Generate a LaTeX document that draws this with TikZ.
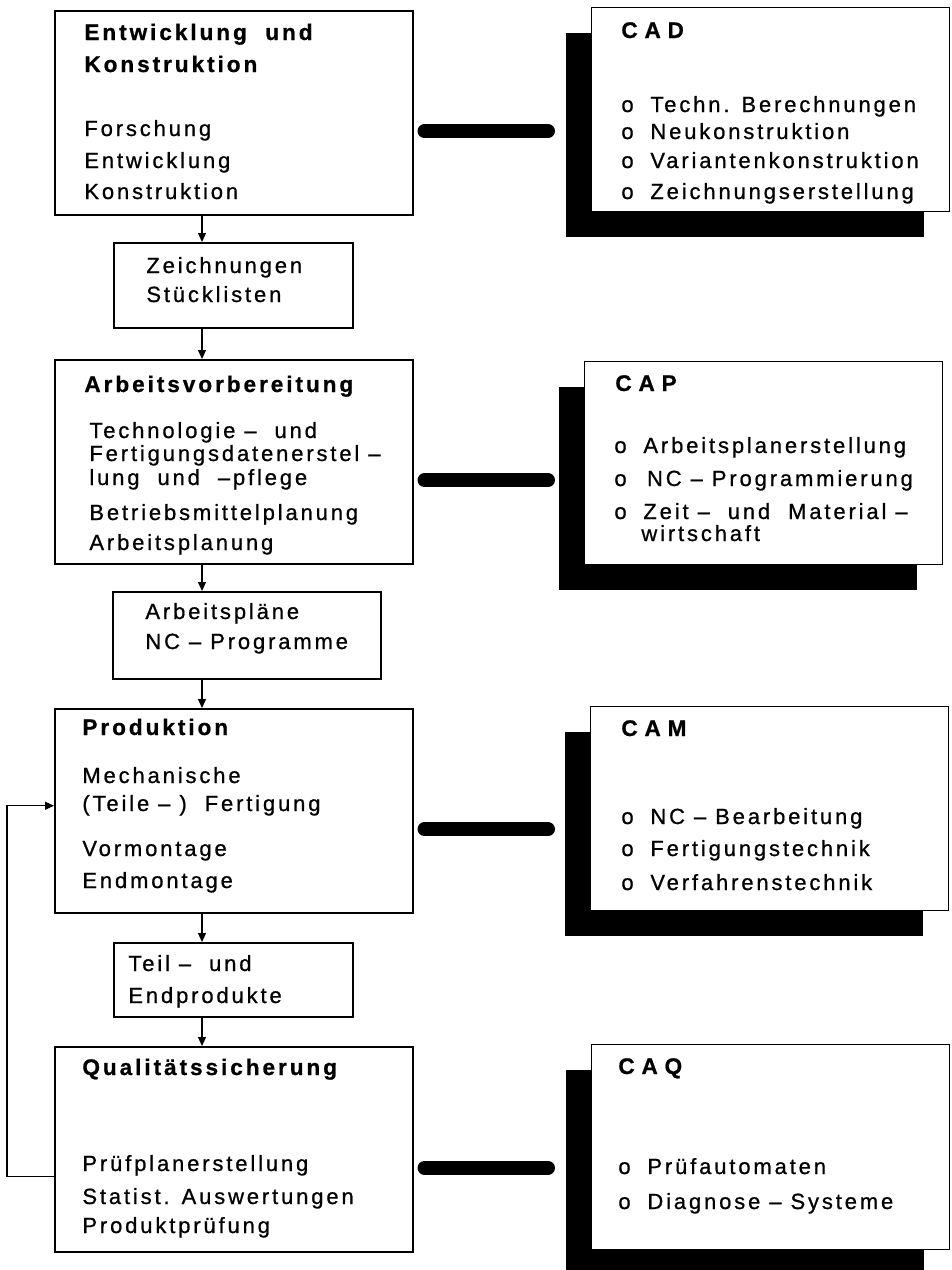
\documentclass[tikz,border=0pt]{standalone}
\usepackage{fontspec}
\setmainfont[LetterSpace=13,FakeBold=0.8]{Liberation Sans}
\usetikzlibrary{arrows.meta,calc,shadows}
\newcommand\bulitem[1]{\makebox[14.5pt][l]{o}#1}

\begin{document}
\begin{tikzpicture}[
  x=0.5pt,y=-0.5pt,
  font=\fontsize{11}{12}\selectfont,
  >={Triangle[length=4.5pt,width=4pt]},
  blk/.style={draw,line width=0.75pt,anchor=north west,inner sep=0pt,
              minimum width=179pt,minimum height=102pt},
  doc/.style={draw,line width=0.75pt,anchor=north west,inner sep=0pt},
  cax/.style={blk,fill=white,line width=0.6pt,
              drop shadow={shadow xshift=-13pt,shadow yshift=-12.5pt,
                           fill=black,opacity=1}},
  head/.style={anchor=base west,inner sep=0pt,font=\fontsize{11.3}{13}\selectfont\bfseries},
  cahead/.style={head,font=\fontsize{11.3}{13}\selectfont\bfseries\addfontfeature{LetterSpace=30}},
  txt/.style={anchor=base west,inner sep=0pt},
  fl/.style={->,line width=0.6pt},
  bar/.style={line width=7pt,line cap=round},
]
\useasboundingbox (0,0) rectangle (952,1270);

%------------------------------------------------ Entwicklung/Konstruktion ---
\node[blk] (ek) at (54,10) {};
\node[head] (ek-h1) at (84,40) {Entwicklung \ und};
\node[head] (ek-h2) at (84,72) {Konstruktion};
\foreach \y/\t [count=\i] in {136/Forschung,168/Entwicklung,199/Konstruktion}
  \node[txt] (ek-\i) at (84,\y) {\t};

\node[doc,minimum width=119.5pt,minimum height=42.5pt] (sb1) at (113,242) {};
\node[txt] (sb1-1) at (146,273) {Zeichnungen};
\node[txt] (sb1-2) at (146,302) {Stücklisten};

%------------------------------------------------- Arbeitsvorbereitung ---
\node[blk] (av) at (54,359) {};
\node[head] (av-h) at (84,392) {Arbeitsvorbereitung};
\foreach \y/\t [count=\i] in {438/Technologie – \ und,461/Fertigungsdatenerstel –,
    485/lung \ und \ –pflege,520/Betriebsmittelplanung,550/Arbeitsplanung}
  \node[txt] (av-\i) at (89,\y) {\t};

\node[doc,minimum width=134pt,minimum height=43.5pt] (sb2) at (112,591) {};
\node[txt] (sb2-1) at (145,619) {Arbeitspläne};
\node[txt] (sb2-2) at (145,649) {NC – Programme};

%----------------------------------------------------------- Produktion ---
\node[blk] (pr) at (54,708) {};
\node[head] (pr-h) at (82,735) {Produktion};
\foreach \y/\t [count=\i] in {783/Mechanische,811/(Teile – ) \ Fertigung,
    856/Vormontage,888/Endmontage}
  \node[txt] (pr-\i) at (82,\y) {\t};

\node[doc,minimum width=119.5pt,minimum height=37pt] (sb3) at (113,942) {};
\node[txt] (sb3-1) at (128,971) {Teil – \ und};
\node[txt] (sb3-2) at (128,1003) {Endprodukte};

%---------------------------------------------------- Qualitaetssicherung ---
\node[blk,minimum height=102.5pt] (qs) at (54,1046) {};
\node[head] (qs-h) at (82,1075) {Qualitätssicherung};
\foreach \y/\t [count=\i] in {1171/Prüfplanerstellung,1204/Statist. Auswertungen,
    1233/Produktprüfung}
  \node[txt] (qs-\i) at (82,\y) {\t};

%------------------------------------------------------------- arrows ---
\coordinate (ax) at (202,0);
\foreach \a/\b in {ek/sb1,sb1/av,av/sb2,sb2/pr,pr/sb3,sb3/qs}
  \draw[fl] (\a.south -| ax) -- (\b.north -| ax);
\draw[fl] ([yshift=-13.75pt]qs.west) -- ++(-47,0) |- ([yshift=2.5pt]pr.west);

%------------------------------------------------------- CA-components ---
\node[cax] (cad) at (591,7) {};
\node[cahead] (cad-h) at (621,38) {CAD};
\foreach \y/\t [count=\i] in {112/Techn. Berechnungen,139/Neukonstruktion,
    168/Variantenkonstruktion,199/Zeichnungserstellung}
  \node[txt] (cad-\i) at (621,\y) {\bulitem{\t}};

\node[cax,minimum height=101.5pt] (cap) at (584,361) {};
\node[cahead] (cap-h) at (615,391) {CAP};
\foreach \y/\t [count=\i] in {453/Arbeitsplanerstellung,486/\,NC – Programmierung,
    519/Zeit – \ und \ Material –}
  \node[txt] (cap-\i) at (614,\y) {\bulitem{\t}};
\node[txt] (cap-4) at (641,541) {wirtschaft};

\node[cax] (cam) at (590,706) {};
\node[cahead] (cam-h) at (621,736) {CAM};
\foreach \y/\t [count=\i] in {824/NC – Bearbeitung,856/Fertigungstechnik,
    890/Verfahrenstechnik}
  \node[txt] (cam-\i) at (621,\y) {\bulitem{\t}};

\node[cax,minimum height=102.5pt] (caq) at (591,1044) {};
\node[cahead] (caq-h) at (618,1074) {CAQ};
\foreach \y/\t [count=\i] in {1174/Prüfautomaten,1209/Diagnose – Systeme}
  \node[txt] (caq-\i) at (618,\y) {\bulitem{\t}};

%--------------------------------------------------------------- bars ---
\coordinate (bx) at (548,0);
\foreach \a in {ek,av,pr,qs}
  \draw[bar] ($(\a.east)+(5.5pt,-9.25pt)$) -- ($(\a.east -| bx)+(0,-9.25pt)$);

\end{tikzpicture}
\end{document}
